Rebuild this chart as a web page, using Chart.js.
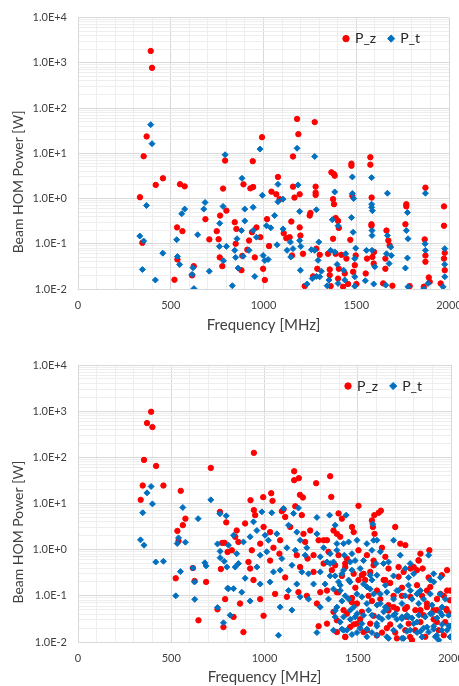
<!DOCTYPE html>
<html>
<head>
<meta charset="utf-8">
<title>Beam HOM Power</title>
<script src="https://cdn.jsdelivr.net/npm/chart.js@4.4.1/dist/chart.umd.min.js"></script>
<style>
  body { margin: 0; background: #fff; }
  canvas { position: absolute; left: 0; }
  #upper { top: 0; }
  #lower { top: 340px; }
</style>
</head>
<body>
<canvas id="upper" width="459" height="340"></canvas>
<canvas id="lower" width="459" height="346"></canvas>
<script>
// [frequency MHz, power W]
const upperZ = [
  [392,1830],[399,776],[370,23.6],[354,8.6],[793,6.9],[458,2.8],[419,2.0],[550,2.07],[575,1.86],[782,1.66],
  [334,1.07],[800,0.54],[766,0.42],[687,0.35],[534,0.23],[563,0.19],[748,0.19],[347,0.105],[708,0.125],[758,0.126],
  [536,0.045],[764,0.05],[778,0.032],[624,0.032],[615,0.02],[520,0.016],
  [1181,57.5],[1276,49],[1188,26.5],[992,22.7],[1159,8.5],[1576,8.2],[942,6.7],[1474,5.9],[1474,5.3],[1576,5.6],
  [1366,3.8],[1379,3.5],[1384,3.2],[1078,3.0],[892,2.06],[929,1.68],[944,1.8],[1159,1.83],[1281,1.83],[1281,1.35],
  [1281,1.2],[1479,1.15],[1873,1.74],[1043,1.42],[1069,1.24],[1087,0.97],[1195,1.24],[1167,1.05],[1375,0.97],[1380,0.75],
  [1583,1.05],[1770,0.75],[1770,0.67],[1973,0.67],[1019,0.35],[1150,0.31],[1249,0.42],[1253,0.48],[1389,0.37],[1402,0.32],
  [1406,0.224],[1468,0.122],[1582,0.27],[1582,0.25],[1663,0.196],[1673,0.118],[1680,0.092],[1765,0.27],[1869,0.125],[1973,0.25],
  [1977,0.063],[1973,0.047],[1977,0.026],[1955,0.0133],[1891,0.018],[1896,0.0144],[1864,0.0112],[1873,0.04],[1873,0.055],[1788,0.0116],
  [1695,0.0118],[1645,0.0133],[1657,0.028],[1657,0.047],[1596,0.066],[1587,0.051],[1594,0.0365],[1551,0.022],[1558,0.047],[1497,0.055],
  [1492,0.0336],[1483,0.024],[1501,0.0129],[1456,0.0129],[1429,0.0112],[1438,0.022],[1406,0.028],[1402,0.017],[1357,0.027],[1357,0.0203],
  [1362,0.0116],[1348,0.06],[1375,0.129],[1389,0.06],[1420,0.057],[1447,0.047],[1285,0.078],[1303,0.057],[1290,0.028],[1267,0.019],
  [1222,0.0116],[1195,0.23],[1199,0.152],[1213,0.06],[1154,0.055],[1141,0.14],[1123,0.133],[1109,0.171],[1030,0.089],[998,0.028],
  [1007,0.0158],[983,0.14],[938,0.18],[962,0.23],[922,0.118],[913,0.074],[953,0.05],[881,0.026],[886,0.054],[850,0.1],
  [854,0.213],[845,0.3]
];
const upperT = [
  [392,43],[399,16.3],[793,9.3],[369,0.70],[685,0.82],[678,0.585],[782,0.67],[575,0.585],[559,0.46],[764,0.283],
  [645,0.158],[333,0.148],[354,0.115],[532,0.123],[762,0.0875],[800,0.0875],[457,0.062],[536,0.052],[548,0.0347],[784,0.042],
  [620,0.0295],[347,0.027],[708,0.0248],[615,0.021],[417,0.0158],[625,0.0102],
  [981,12.4],[1181,12.9],[1276,8.5],[1479,3.0],[1583,2.9],[884,2.8],[1078,2.06],[1186,2.0],[1384,1.4],[1479,1.29],
  [1668,1.31],[1873,1.31],[1078,0.85],[994,1.18],[1105,0.97],[1486,1.0],[1583,0.75],[1583,0.64],[1587,0.54],[1776,0.49],
  [899,0.585],[944,0.64],[1060,0.42],[1195,0.52],[1285,0.565],[1371,0.34],[1402,0.25],[1474,0.38],[1483,0.18],[1585,0.196],
  [1585,0.152],[1668,0.152],[1686,0.0845],[1770,0.196],[1779,0.129],[1871,0.1],[1977,0.078],[1977,0.035],[1977,0.0186],[1968,0.0112],
  [1887,0.0133],[1864,0.01],[1873,0.0715],[1776,0.0485],[1765,0.029],[1779,0.0112],[1659,0.0122],[1663,0.06],[1689,0.055],[1677,0.0365],
  [1585,0.0715],[1600,0.031],[1549,0.0152],[1594,0.0129],[1555,0.0715],[1497,0.08],[1492,0.047],[1492,0.0186],[1492,0.0115],[1438,0.0158],
  [1432,0.026],[1397,0.035],[1402,0.0133],[1353,0.0158],[1343,0.0118],[1362,0.0715],[1384,0.066],[1443,0.06],[1298,0.109],[1276,0.0715],
  [1258,0.074],[1294,0.043],[1312,0.0248],[1303,0.0186],[1285,0.019],[1235,0.0129],[1263,0.017],[1195,0.118],[1201,0.0875],[1199,0.026],
  [1145,0.109],[1159,0.078],[1147,0.051],[1105,0.213],[1127,0.0715],[1073,0.095],[1025,0.045],[1007,0.0427],[998,0.055],[1039,0.225],
  [1016,0.25],[944,0.196],[962,0.14],[922,0.0715],[890,0.053],[863,0.029],[845,0.0715],[850,0.05],[857,0.129],[881,0.196],
  [953,0.019],[832,0.0118],[899,0.32]
];
const lowerZ = [
  [392,970],[370,552],[399,452],[354,88],[419,65],[712,59],[347,24.5],[458,24.5],[551,18.8],[336,12],
  [576,4.7],[562,3.4],[533,2.55],[539,1.55],[761,6.6],[795,3.9],[773,1.4],[786,1.4],[802,0.89],[766,0.38],
  [616,0.40],[524,0.24],[625,0.21],[687,0.2],[748,0.051],[646,0.0295],[780,0.021],
  [943,125],[1159,50],[1184,35.4],[1159,32],[1352,39],[1277,27.5],[1190,15.4],[1206,13.5],[1358,13.9],[1036,16.7],
  [993,13.7],[1043,11.4],[925,11.8],[1504,8.9],[1165,8.7],[1102,7.5],[943,7.2],[1624,7.0],
  [950,5.6],[1093,6.8],[1111,5.1],[1200,5.6],[1397,6.1],[1415,4.7],[1612,6.3],[1589,5.6],[1576,4.3],[896,3.7],
  [851,2.6],[843,1.9],[860,1.47],[995,3.1],[1030,2.4],[1084,1.6],[977,1.35],[1138,3.1],[1209,2.2],[1245,2.6],
  [1290,1.6],[1317,1.6],[1335,1.6],[1370,2.6],[1388,2.2],[1406,1.9],[1469,3.1],[1478,2.4],[1581,3.1],[1590,2.2],
  [1701,3.1],[1728,1.35],[1755,1.25],[1884,0.97],[825,0.97],[932,0.97],[1080,0.82],[1173,0.76],[1231,0.64],[1263,0.76],
  [1343,0.9],[1397,0.76],[1442,0.64],[1549,0.76],[1585,0.58],[1648,0.7],[1719,0.42],[1746,0.33],[1782,0.39],[1800,0.42],
  [1827,0.58],[1848,0.39],[1979,0.36],[1979,0.13],[1996,0.13],[1871,0.13],[914,0.54],[923,0.39],[1030,0.58],[1191,0.42],
  [1263,0.33],[1361,0.36],[1415,0.27],[1478,0.3],[1504,0.22],[1531,0.3],[1567,0.33],[1639,0.22],[1674,0.19],[1737,0.15],
  [1818,0.17],[869,0.068],[977,0.085],[1057,0.11],[1120,0.095],[1182,0.12],[1227,0.1],[1281,0.068],[1299,0.12],[1388,0.12],
  [1469,0.09],[1496,0.068],[1576,0.077],[1621,0.085],[1665,0.063],[1710,0.052],[1764,0.057],[1809,0.049],[1836,0.049],[1871,0.057],
  [1925,0.049],[1975,0.052],[1996,0.041],[834,0.035],[887,0.0164],[995,0.037],[1290,0.022],[1335,0.025],[1388,0.0164],[1433,0.013],
  [1478,0.024],[1549,0.018],[1585,0.037],[1630,0.016],[1674,0.024],[1701,0.016],[1755,0.018],[1791,0.011],[1836,0.027],[1862,0.013],
  [1907,0.031],[1934,0.018],[1961,0.014],
  [1048,1.1],[1218,1.47],[1317,0.5],[1111,0.25],[941,0.22],[789,0.085],[1424,0.049],[1522,0.045],[1442,0.041],[1558,0.1],
  [1603,0.13],[1692,0.1],[1782,0.095],[1845,0.1],[1925,0.085],[1943,0.11],[1907,0.049],[1853,0.038],[1773,0.025],[1656,0.02],
  [1567,0.025],[1513,0.031],[1370,0.045],[1335,0.13],[1487,0.15],[1433,0.42],[1504,0.97],[1630,1.1],[1836,0.82],[1880,0.25],
  [1961,0.1],
  [1379,0.46],[1433,0.5],[1522,0.28],[1540,0.22],[1585,0.46],[1647,0.22],[1665,0.39],[1719,0.26],[1737,0.1],[1817,0.36],
  [1826,0.59],[1889,0.156],[1951,0.28],[1978,0.048],[1969,0.027],[1924,0.027],[1835,0.048],[1808,0.018],[1781,0.0128],[1710,0.012],
  [1602,0.0139],[1531,0.0164],[1433,0.0128],[1459,0.021],[1388,0.0295],[1495,0.025],[1468,0.073],[1397,0.12],[1665,0.048],[1692,0.057],
  [1754,0.052],[1763,0.035],[1995,0.08],[1871,0.068]
];
const lowerT = [
  [392,23.4],[370,17],[399,9.8],[712,12],[562,8.2],[347,6.3],[644,4.7],[539,1.8],[532,1.36],[576,1.45],
  [335,1.63],[354,1.25],[761,6.0],[795,5.4],[748,1.33],[762,0.92],[762,0.67],[784,0.56],[417,0.54],[458,0.56],
  [549,0.335],[616,0.40],[680,0.52],[687,0.445],[625,0.2],[802,0.146],[524,0.1],[626,0.084],[748,0.056],[780,0.026],
  [1182,8.0],[986,6.6],[1039,6.3],[1102,7.8],[1156,6.1],[1281,5.0],[1349,5.6],[1438,5.6],[1580,3.6],[941,4.0],
  [959,2.6],[834,2.05],[807,1.25],[887,1.47],[923,1.9],[1066,2.2],[1021,1.6],[1129,3.4],[1173,2.4],[1191,1.6],
  [1281,2.2],[1379,3.4],[1388,1.35],[1424,1.35],[1451,1.47],[1496,1.6],[1585,1.6],[1603,1.6],[1692,1.6],[1880,0.76],
  [851,0.82],[977,0.76],[1012,0.9],[1093,0.64],[1165,0.97],[1218,0.76],[1299,0.7],[1352,0.82],[1388,0.97],[1428,0.76],
  [1460,0.54],[1469,0.82],[1486,0.58],[1576,0.97],[1598,0.5],[1621,0.9],[1755,0.39],[1907,0.30],[1907,0.2],[798,0.42],
  [843,0.42],[860,0.5],[959,0.42],[1084,0.36],[1147,0.46],[1200,0.33],[1236,0.3],[1299,0.33],[1352,0.5],[1379,0.27],
  [1397,0.2],[1424,0.36],[1513,0.39],[1576,0.22],[1603,0.28],[1648,0.17],[1692,0.27],[1710,0.13],[1773,0.25],[1782,0.13],
  [1836,0.13],[807,0.143],[878,0.12],[923,0.077],[977,0.18],[1030,0.2],[1084,0.057],[1129,0.13],[1147,0.049],[1191,0.095],
  [1236,0.085],[1299,0.057],[1343,0.085],[1370,0.14],[1406,0.13],[1433,0.1],[1451,0.085],[1478,0.057],[1522,0.095],[1549,0.068],
  [1603,0.063],[1648,0.057],[1692,0.085],[1737,0.068],[1791,0.085],[1827,0.068],[1853,0.085],[1898,0.063],[1952,0.057],[1987,0.038],
  [816,0.038],[1075,0.014],[1281,0.016],[1379,0.035],[1442,0.018],[1460,0.031],[1496,0.016],[1522,0.025],[1531,0.038],[1576,0.016],
  [1603,0.022],[1630,0.031],[1656,0.013],[1692,0.038],[1728,0.022],[1746,0.012],[1800,0.025],[1818,0.016],[1853,0.02],[1880,0.0164],
  [1916,0.013],[1952,0.024],[1979,0.018],[1996,0.013],[1934,0.011],
  [1003,2.05],[1120,1.1],[1227,1.1],[1317,1.1],[1335,0.54],[1263,0.18],[1173,0.18],[1048,0.33],[896,0.24],[834,0.143],
  [1415,0.077],[1388,0.057],[1460,0.049],[1496,0.041],[1558,0.049],[1576,0.038],[1612,0.035],[1639,0.045],[1665,0.035],[1710,0.031],
  [1737,0.035],[1764,0.038],[1791,0.033],[1827,0.038],[1862,0.035],[1889,0.041],[1925,0.033],[1952,0.038],[1996,0.022],[1907,0.022],
  [1836,0.017],[1764,0.017],[1692,0.018],[1603,0.014],[1549,0.013],[1513,0.02],[1469,0.0145],[1415,0.019],[1406,0.027],[1621,0.11],
  [1656,0.12],[1755,0.1],[1818,0.11],[1889,0.11],[1970,0.085],[1352,0.27],[1325,0.18],[1531,0.18],[1567,0.14],[1451,0.22],
  [1469,0.36],[1531,0.58],[1549,1.35],[1665,0.54],[1728,0.76],[1800,0.3],[1943,0.25],
  [1370,0.54],[1415,0.3],[1406,0.17],[1459,0.2],[1495,0.11],[1549,0.156],[1585,0.11],[1620,0.068],[1656,0.052],[1701,0.041],
  [1737,0.032],[1772,0.035],[1817,0.027],[1871,0.021],[1907,0.019],[1951,0.018],[1987,0.0225],[1898,0.041],[1942,0.044],[1379,0.048],
  [1424,0.035],[1370,0.018],[1424,0.018],[1486,0.035],[1549,0.019],[1602,0.025],[1665,0.012],[1737,0.012],[1781,0.018],[1844,0.0128],
  [1924,0.0139],[1996,0.0128],[1719,0.13],[1772,0.17],[1826,0.12],[1889,0.22],[1942,0.11],[1567,0.28],[1638,0.5],[1781,0.5]
];

const xLabelEvery = 500;          // labelled x ticks: 0, 500 ... 2000
const xGridStep = 100;
const yExponents = [-2, -1, 0, 1, 2, 3, 4];   // labelled y ticks 1.0E-2 ... 1.0E+4

const red = '#ff0000';
const blue = '#0070c0';
const gridMajor = '#d9d9d9';
const gridMinor = '#eeeeee';
const textCol = '#404040';
const fontFam = 'Lato, "Open Sans", sans-serif';

// y grid: 1..9 x 10^e for each decade, plus the top decade
const yGrid = [];
for (let i = 0; i < yExponents.length - 1; i++) {
  for (let m = 1; m <= 9; m++) yGrid.push(Number((m * Math.pow(10, yExponents[i])).toPrecision(2)));
}
yGrid.push(Math.pow(10, yExponents[yExponents.length - 1]));

const isDecade = v => Math.abs(Math.log10(v) - Math.round(Math.log10(v))) < 1e-9;
const sci = v => {
  const e = Math.round(Math.log10(v));
  return '1.0E' + (e < 0 ? '-' : '+') + Math.abs(e);
};
const toXY = arr => arr.map(p => ({ x: p[0], y: p[1] }));

function marker(ctx, style, x, y, r) {
  ctx.beginPath();
  if (style === 'rectRot') {
    ctx.moveTo(x, y - r); ctx.lineTo(x + r, y); ctx.lineTo(x, y + r); ctx.lineTo(x - r, y);
    ctx.closePath();
  } else {
    ctx.arc(x, y, r, 0, Math.PI * 2);
  }
  ctx.fill();
  ctx.stroke();
}

// legend drawn inside the plot, top right, like the spreadsheet one
const inPlotLegend = {
  id: 'inPlotLegend',
  afterDraw(chart) {
    const { ctx, chartArea } = chart;
    let x = chartArea.right - 103;
    const y = chartArea.top + 21;
    ctx.save();
    ctx.font = '14px ' + fontFam;
    ctx.textBaseline = 'middle';
    ctx.textAlign = 'left';
    ctx.lineWidth = 1;
    chart.data.datasets.forEach(ds => {
      ctx.fillStyle = ds.backgroundColor;
      ctx.strokeStyle = ds.borderColor;
      marker(ctx, ds.pointStyle, x, y, ds.pointStyle === 'rectRot' ? 3.6 : 3.2);
      ctx.fillStyle = '#262626';
      ctx.fillText(ds.label, x + 9, y);
      x += 9 + ctx.measureText(ds.label).width + 15;
    });
    ctx.restore();
  }
};

function makeChart(id, pz, pt, g) {
  return new Chart(document.getElementById(id), {
    type: 'scatter',
    data: {
      datasets: [
        { label: 'P_z', data: toXY(pz), backgroundColor: red, borderColor: red,
          pointStyle: 'circle', pointRadius: 2.7, borderWidth: 1, order: 1 },
        { label: 'P_t', data: toXY(pt), backgroundColor: blue, borderColor: blue,
          pointStyle: 'rectRot', pointRadius: 3, borderWidth: 1, order: 0 }
      ]
    },
    options: {
      responsive: false,
      animation: false,
      layout: { autoPadding: false, padding: { top: g.top, right: g.right, left: 0, bottom: 0 } },
      plugins: {
        tooltip: { enabled: false },
        legend: { display: false }
      },
      scales: {
        x: {
          type: 'linear', min: 0, max: 2000,
          // fixed axis height; let the last label ("2000") run off the edge as in the original
          afterFit: s => { s.height = g.xh; s.paddingLeft = 0; s.paddingRight = 0; },
          ticks: {
            stepSize: xGridStep, autoSkip: false, maxRotation: 0, padding: g.tickPad,
            color: textCol, font: { family: fontFam, size: 11 },
            callback: v => v % xLabelEvery === 0 ? String(v) : ''
          },
          grid: { drawTicks: false, color: c => c.tick && c.tick.value % xLabelEvery === 0 ? gridMajor : gridMinor },
          border: { color: gridMajor },
          title: {
            display: true, text: 'Frequency [MHz]', color: textCol,
            font: { family: fontFam, size: 15 }, padding: { top: 0, bottom: g.titlePad }
          }
        },
        y: {
          type: 'logarithmic', min: 0.01, max: 10000,
          afterBuildTicks: s => { s.ticks = yGrid.map(v => ({ value: v })); },
          afterFit: s => { s.width = 78; },
          ticks: {
            autoSkip: false, padding: 11, color: textCol, font: { family: fontFam, size: 11 },
            callback: v => isDecade(v) ? sci(v) : ''
          },
          grid: { drawTicks: false, color: c => c.tick && isDecade(c.tick.value) ? gridMajor : gridMinor },
          border: { color: gridMajor },
          title: {
            // trailing spaces nudge the title a bit below the axis middle, as in the original
            display: true, text: 'Beam HOM Power [W]                ', color: textCol,
            font: { family: fontFam, size: 14 }, padding: { top: 10, bottom: 0 }
          }
        }
      }
    },
    plugins: [inPlotLegend]
  });
}

makeChart('upper', upperZ, upperT, { top: 15, right: 10, xh: 51, tickPad: 10, titlePad: 6 });
makeChart('lower', lowerZ, lowerT, { top: 25, right: 8, xh: 44, tickPad: 10, titlePad: 0 });
</script>
</body>
</html>
